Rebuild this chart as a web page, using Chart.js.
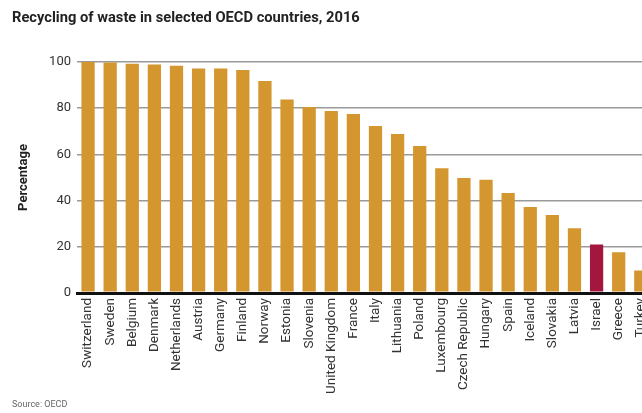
<!DOCTYPE html>
<html>
<head>
<meta charset="utf-8">
<script src="https://cdn.jsdelivr.net/npm/chart.js@4.4.1/dist/chart.umd.min.js"></script>
<style>
  html, body { margin: 0; padding: 0; background: #fff; overflow: hidden; }
  #wrap { position: relative; width: 662px; height: 413px; }
</style>
</head>
<body>
<div id="wrap"><canvas id="c" width="662" height="413"></canvas></div>
<script>
const countries = ["Switzerland","Sweden","Belgium","Denmark","Netherlands","Austria","Germany","Finland","Norway","Estonia","Slovenia","United Kingdom","France","Italy","Lithuania","Poland","Luxembourg","Czech Republic","Hungary","Spain","Iceland","Slovakia","Latvia","Israel","Greece","Turkey"];
const recycling = [100, 99.8, 99.2, 98.9, 98.4, 97.2, 97.2, 96.5, 91.8, 83.8, 80.5, 78.8, 77.5, 72.3, 68.8, 63.6, 54, 49.8, 49, 43.3, 37.2, 33.8, 28, 21, 17.6, 9.7];
const yTicks = [0, 20, 40, 60, 80, 100];
const titleText = "Recycling of waste in selected OECD countries, 2016";
const sourceText = "Source: OECD";
const yTitle = "Percentage";

const GOLD = "#D4962E";
const RED = "#A3173E";
const FONT = "'Roboto', 'DejaVu Sans', sans-serif";

const textPlugin = {
  id: 'texts',
  afterDraw(chart) {
    const ctx = chart.ctx;
    ctx.save();
    ctx.fillStyle = '#222';
    ctx.font = "bold 14.7px " + FONT;
    ctx.textBaseline = 'middle';
    ctx.textAlign = 'left';
    ctx.fillText(titleText, 12, 18);
    ctx.fillStyle = '#666';
    ctx.font = "9px " + FONT;
    ctx.fillText(sourceText, 12, 405);
    ctx.restore();
  }
};

new Chart(document.getElementById('c'), {
  type: 'bar',
  data: {
    labels: countries,
    datasets: [{
      data: recycling,
      backgroundColor: countries.map(c => c === "Israel" ? RED : GOLD),
      barPercentage: 0.6,
      categoryPercentage: 1.0
    }]
  },
  options: {
    responsive: false,
    animation: false,
    layout: { padding: { top: 62, left: 0, right: 0, bottom: 0 } },
    plugins: { legend: { display: false }, tooltip: { enabled: false } },
    scales: {
      x: {
        grid: { display: false, drawTicks: false },
        border: { display: true, color: '#111', width: 3 },
        ticks: {
          autoSkip: false,
          maxRotation: 90, minRotation: 90,
          color: '#333',
          padding: 5,
          font: { family: FONT, size: 13.5 }
        },
        afterFit(scale) { scale.height = 120; }
      },
      y: {
        min: 0, max: 100,
        afterBuildTicks(scale) { scale.ticks = yTicks.map(v => ({ value: v })); },
        grid: {
          color: ctx => ctx.tick && ctx.tick.value === 0 ? '#111' : '#9a9a9a',
          lineWidth: ctx => ctx.tick && ctx.tick.value === 0 ? 3 : 1.5,
          drawTicks: false
        },
        border: { display: false },
        ticks: { color: '#333', padding: 6, font: { family: FONT, size: 13 } },
        title: {
          display: true, text: yTitle, color: '#222',
          font: { family: FONT, size: 13, weight: 'bold' },
          padding: { top: 16, bottom: 0 }
        },
        afterFit(scale) { scale.width = 77; }
      }
    }
  },
  plugins: [textPlugin]
});
</script>
</body>
</html>
